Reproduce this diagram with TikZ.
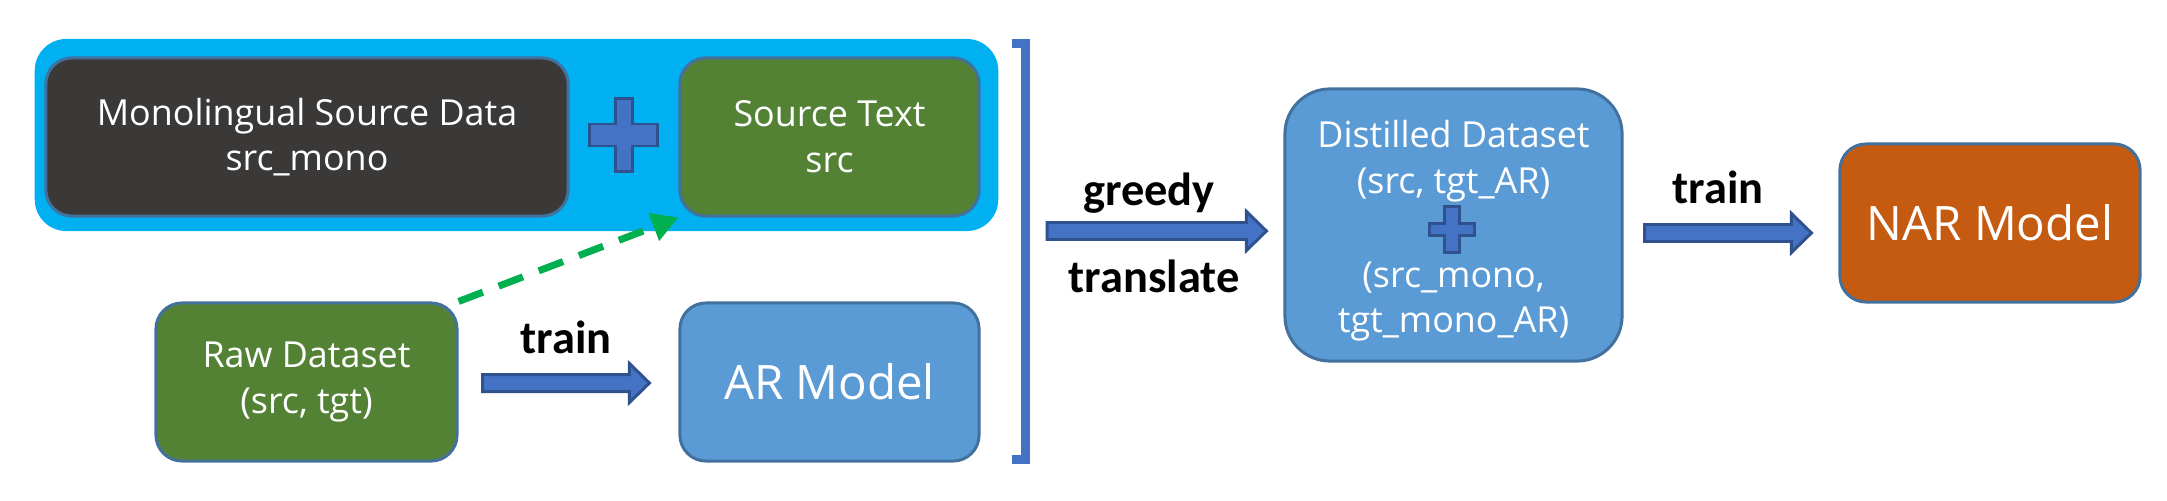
\documentclass[tikz,border=0pt]{standalone}
\usepackage{fontspec}
\setmainfont{Open Sans}
\newfontfamily\labelfont{Carlito}
\usetikzlibrary{calc,arrows.meta}
\definecolor{cyanbg}{HTML}{00B0F0}
\definecolor{darkfill}{HTML}{3B3838}
\definecolor{greenfill}{HTML}{548235}
\definecolor{bluefill}{HTML}{5B9BD5}
\definecolor{orangefill}{HTML}{C55A11}
\definecolor{boxline}{HTML}{41719C}
\definecolor{arrfill}{HTML}{4472C4}
\definecolor{arrline}{HTML}{2F528F}
\definecolor{dashgreen}{HTML}{00B050}
\newcommand{\plusmark}[5]{%
  \draw[plusstyle] ($(#1)+(-#4,-#3)$) -- ($(#1)+(#4,-#3)$) -- ($(#1)+(#4,-#5)$)
   -- ($(#1)+(#2,-#5)$) -- ($(#1)+(#2,#5)$) -- ($(#1)+(#4,#5)$) -- ($(#1)+(#4,#3)$)
   -- ($(#1)+(-#4,#3)$) -- ($(#1)+(-#4,#5)$) -- ($(#1)+(-#2,#5)$) -- ($(#1)+(-#2,-#5)$)
   -- ($(#1)+(-#4,-#5)$) -- cycle;}
\newcommand{\blockarr}[2]{%
  \draw[blockstyle] ($(#1)+(0,-8.5)$) -- ($(#2)+(-20,-8.5)$) -- ($(#2)+(-20,-19.5)$)
   -- (#2) -- ($(#2)+(-20,19.5)$) -- ($(#2)+(-20,8.5)$) -- ($(#1)+(0,8.5)$) -- cycle;}
\begin{document}
\begin{tikzpicture}[x=0.01cm,y=-0.01cm,
  box/.style={draw=boxline, line width=0.85pt, rounded corners=#1, text=white,
    align=center, inner sep=0pt, font=\fontsize{10.2}{13}\selectfont},
  box/.default=7.4pt,
  bigtext/.style={font=\fontsize{13.5}{16}\selectfont},
  boxtext/.style={text=white, inner sep=0pt, anchor=base, font=\fontsize{10.2}{13}\selectfont},
  plusstyle/.style={fill=arrfill, draw=arrline, line width=0.85pt},
  blockstyle/.style={fill=arrfill, draw=arrline, line width=0.85pt},
  lbl/.style={anchor=base, inner sep=0pt, font=\labelfont\bfseries\fontsize{13.2}{15}\selectfont},
  dashedarrow/.style={draw=dashgreen, line width=2pt, dash pattern=on 7.4pt off 4.8pt,
    -{Triangle[length=7.5pt,width=8pt]}},
  bracketstyle/.style={draw=arrfill, line width=2.56pt}
]
\useasboundingbox (0,0) rectangle (2167,500);
% background group
\node[fill=cyanbg, rounded corners=9pt, minimum width=9.63cm, minimum height=1.92cm, inner sep=0pt] (grp) at (516.5,135) {};
\node[box, fill=darkfill, minimum width=5.22cm, minimum height=1.58cm] (mono) at (307,137) {Monolingual Source Data\\src\_mono};
\node[box, fill=greenfill, minimum width=2.99cm, minimum height=1.58cm] (src) at (829.5,137) {Source Text\\src};
\coordinate (p1) at (623.5,135);
\plusmark{p1}{34}{36.5}{8.5}{11}
\node[box, fill=greenfill, minimum width=3.01cm, minimum height=1.58cm] (raw) at (306.5,382) {Raw Dataset\\(src, tgt)};
\node[box, fill=bluefill, bigtext, minimum width=2.99cm, minimum height=1.58cm] (ar) at (829.5,382) {AR Model};
\node[box=12.8pt, fill=bluefill, minimum width=3.37cm, minimum height=2.72cm] (dist) at (1453.5,225) {};
\node[box, fill=orangefill, bigtext, minimum width=3.00cm, minimum height=1.58cm] (nar) at (1990,223) {NAR Model};
% distilled text
\node[boxtext] (d1) at (1453.5,147) {Distilled Dataset};
\node[boxtext] (d2) at (1453.5,193) {(src, tgt\_AR)};
\coordinate (p2) at (1452,229.5);
\plusmark{p2}{22.5}{23}{7.5}{6}
\node[boxtext] (d3) at (1453.5,287) {(src\_mono,};
\node[boxtext] (d4) at (1453.5,332) {tgt\_mono\_AR)};
% dashed arrow
\draw[dashedarrow] (raw.north east) -- (src.south west);
% bracket
\coordinate (bt) at (1012,43.5);
\coordinate (bb) at (1012,459.5);
\draw[bracketstyle] (bt) -- ($(bt)+(13.5,0)$) -- ($(bb)+(13.5,0)$) -- (bb);
% block arrows
\coordinate (a1s) at ($(raw.east)+(24,1)$);
\coordinate (a1e) at ($(ar.west)+(-29,1)$);
\blockarr{a1s}{a1e}
\coordinate (a2s) at (1047,231);
\coordinate (a2e) at ($(dist.west)+(-17,6)$);
\blockarr{a2s}{a2e}
\coordinate (a3s) at ($(dist.east)+(21,8)$);
\coordinate (a3e) at ($(nar.west)+(-27,10)$);
\blockarr{a3s}{a3e}
% labels
\node[lbl] (l1) at (566,353) {train};
\node[lbl] (l2) at (1149,205) {greedy};
\node[lbl] (l3) at (1154,292) {translate};
\node[lbl] (l4) at (1718,203) {train};
\end{tikzpicture}
\end{document}
